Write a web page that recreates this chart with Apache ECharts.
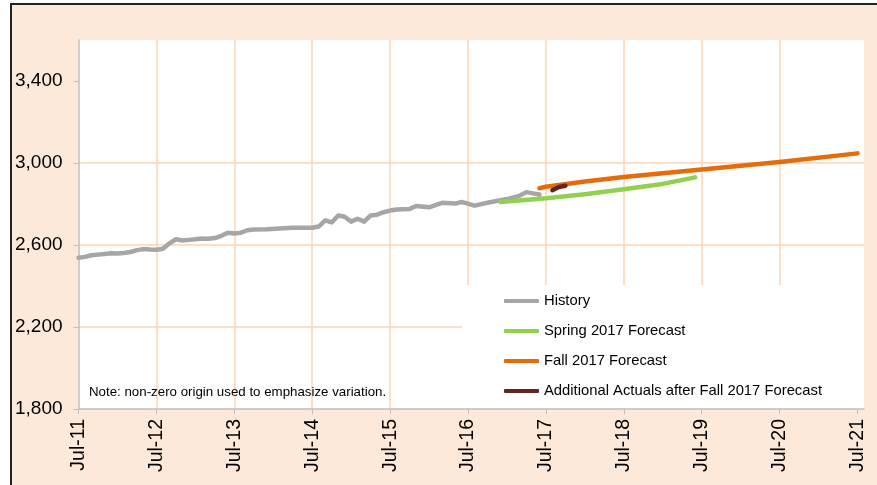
<!DOCTYPE html>
<html>
<head>
<meta charset="utf-8">
<script src="https://cdn.jsdelivr.net/npm/echarts@6/dist/echarts.min.js"></script>
<style>
  html, body { margin: 0; padding: 0; background: #fff; }
  #frame {
    position: absolute; left: 10px; top: 3px; width: 867px; height: 482px;
    border-top: 2px solid #222; border-left: 2px solid #222; background: #fde9d9;
  }
  #chart { width: 865px; height: 480px; }
</style>
</head>
<body>
<div id="frame"><div id="chart"></div></div>
<script>
(function () {
    'use strict';

    // Monthly dates (YYYY-MM) and values.
    var historyDates = [
        '2011-07', '2011-08', '2011-09', '2011-10', '2011-11', '2011-12', '2012-01', '2012-02',
        '2012-03', '2012-04', '2012-05', '2012-06', '2012-07', '2012-08', '2012-09', '2012-10',
        '2012-11', '2012-12', '2013-01', '2013-02', '2013-03', '2013-04', '2013-05', '2013-06',
        '2013-07', '2013-08', '2013-09', '2013-10', '2013-12', '2014-02', '2014-04', '2014-07',
        '2014-08', '2014-09', '2014-10', '2014-11', '2014-12', '2015-01', '2015-02', '2015-03',
        '2015-04', '2015-05', '2015-06', '2015-07', '2015-08', '2015-10', '2015-11', '2016-01',
        '2016-03', '2016-05', '2016-06', '2016-08', '2016-10', '2017-01', '2017-03', '2017-04',
        '2017-05', '2017-06'
    ];
    var historyValues = [
        2538, 2542, 2550, 2553, 2556, 2560, 2558, 2561,
        2566, 2575, 2580, 2578, 2577, 2582, 2608, 2628,
        2622, 2625, 2628, 2632, 2630, 2634, 2645, 2660,
        2656, 2660, 2672, 2676, 2677, 2680, 2684, 2684,
        2690, 2720, 2710, 2744, 2738, 2714, 2728, 2714,
        2744, 2748, 2760, 2768, 2773, 2776, 2790, 2784,
        2806, 2802, 2810, 2792, 2806, 2824, 2841, 2858,
        2852, 2846
    ];

    var springDates = ['2016-12', '2017-07', '2018-01', '2018-07', '2019-01', '2019-06'];
    var springValues = [2810, 2828, 2848, 2872, 2898, 2930];

    var fallDates = ['2017-06', '2017-07', '2018-01', '2018-07', '2019-07', '2020-07', '2021-07'];
    var fallValues = [2877, 2884, 2910, 2932, 2968, 3005, 3047];

    var actualDates = ['2017-08', '2017-09', '2017-10'];
    var actualValues = [2867, 2883, 2889];

    var seriesNames = ['History', 'Spring 2017 Forecast', 'Fall 2017 Forecast',
        'Additional Actuals after Fall 2017 Forecast'];
    var seriesColors = ['#a6a6a6', '#92d050', '#e46c0a', '#632523'];

    var xTickLabels = ['Jul-11', 'Jul-12', 'Jul-13', 'Jul-14', 'Jul-15', 'Jul-16',
        'Jul-17', 'Jul-18', 'Jul-19', 'Jul-20', 'Jul-21'];
    var yTicks = [1800, 2200, 2600, 3000, 3400];

    var noteText = 'Note: non-zero origin used to emphasize variation.';

    var FONT = '"Liberation Sans", Arial, sans-serif';

    // months since Jul-2011
    function monthIdx(s) {
        var p = s.split('-');
        return (+p[0] - 2011) * 12 + (+p[1] - 7);
    }

    function pairs(dates, values) {
        return dates.map(function (d, i) { return [monthIdx(d), values[i]]; });
    }

    var xTickValues = xTickLabels.map(function (l, i) { return i * 12; });

    var chart = echarts.init(document.getElementById('chart'));

    var lines = [
        pairs(historyDates, historyValues),
        pairs(springDates, springValues),
        pairs(fallDates, fallValues),
        pairs(actualDates, actualValues)
    ];

    chart.setOption({
        animation: false,
        textStyle: { fontFamily: FONT },
        grid: {
            left: 65, top: 35, right: 13, bottom: 76,
            show: true, backgroundColor: '#fff', borderWidth: 0
        },
        legend: {
            orient: 'vertical', left: 492, top: 288, padding: 0,
            itemGap: 14, itemWidth: 35, itemHeight: 4, icon: 'roundRect',
            textStyle: { fontFamily: FONT, fontSize: 14.8, color: '#000', lineHeight: 16 },
            data: seriesNames
        },
        graphic: [
            {
                // white legend panel
                type: 'rect', z: 1, silent: true,
                shape: { x: 450, y: 280, width: 402, height: 123 },
                style: { fill: '#fff' }
            },
            {
                type: 'text', z: 5, left: 77, top: 381, silent: true,
                style: { text: noteText, fontFamily: FONT, fontSize: 13.3, fill: '#000' }
            }
        ],
        xAxis: {
            type: 'value', min: 0, max: 121, interval: 12,
            axisLine: { show: true, lineStyle: { color: '#bfbfbf', width: 1.5 } },
            axisTick: { show: true, length: 5, customValues: xTickValues, lineStyle: { color: '#bfbfbf' } },
            axisLabel: {
                customValues: xTickValues, rotate: 90, margin: 10,
                fontFamily: FONT, fontSize: 19.5, color: '#000',
                formatter: function (v) { return xTickLabels[Math.round(v / 12)] || ''; }
            },
            splitLine: {
                show: true, showMinLine: false, showMaxLine: false,
                lineStyle: { color: '#fcd5b5', width: 1.5 }
            }
        },
        yAxis: {
            type: 'value', min: 1800, max: 3600, interval: 400,
            axisLine: { show: true, lineStyle: { color: '#bfbfbf', width: 1.5 } },
            axisTick: { show: true, length: 5, customValues: yTicks, lineStyle: { color: '#bfbfbf' } },
            axisLabel: {
                customValues: yTicks, margin: 16,
                fontFamily: FONT, fontSize: 19, color: '#000',
                formatter: function (v) { return echarts.format.addCommas(v); }
            },
            splitLine: {
                show: true, showMinLine: false, showMaxLine: false,
                lineStyle: { color: '#fcd5b5', width: 1.5 }
            }
        },
        series: seriesNames.map(function (name, i) {
            return {
                name: name, type: 'line', z: 2 + i,
                data: lines[i], showSymbol: false, symbol: 'none',
                color: seriesColors[i],
                lineStyle: { color: seriesColors[i], width: 4.5, cap: 'round', join: 'round' }
            };
        })
    });
})();
</script>
</body>
</html>
